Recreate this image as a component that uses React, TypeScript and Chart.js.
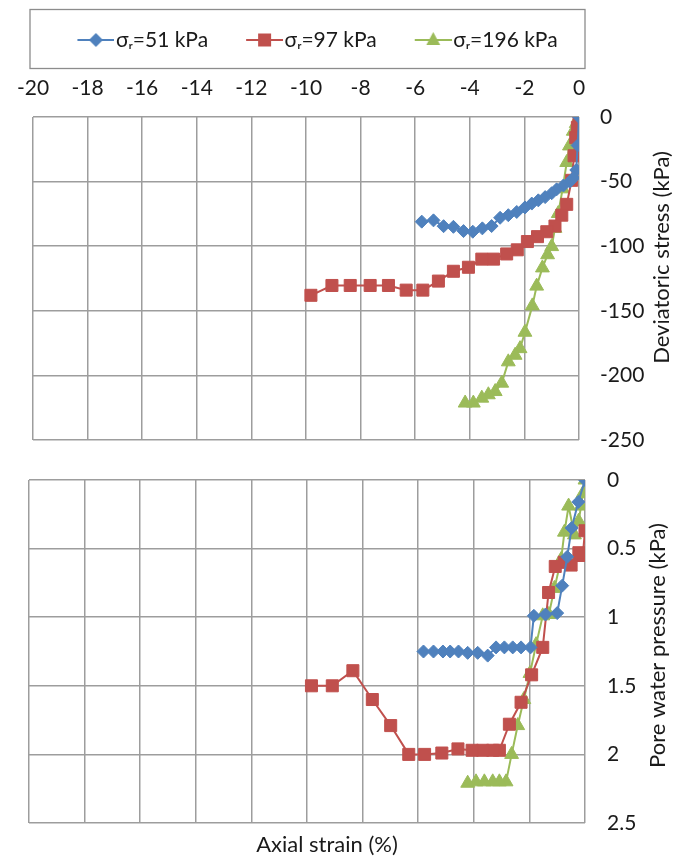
import React, { useEffect, useRef } from "react";
import { Chart, registerables } from "chart.js";

Chart.register(...registerables);

// ---------- data ----------
const seriesLabels = ["σᵣ=51 kPa", "σᵣ=97 kPa", "σᵣ=196 kPa"];
const seriesColors = ["#4F81BD", "#C0504D", "#9BBB59"];
const seriesMarkers = ["rectRot", "rect", "triangle"];

const strainTicks = [-20, -18, -16, -14, -12, -10, -8, -6, -4, -2, 0];
const devTicks = [0, -50, -100, -150, -200, -250];
const pwpTicks = [0, 0.5, 1, 1.5, 2, 2.5];

// Deviatoric stress (kPa) vs axial strain (%)
const strain51Dev = [0, -0.05, -0.1, -0.2, -0.33, -0.57, -0.82, -1.0, -1.24, -1.49, -1.73, -1.98, -2.28, -2.59, -2.89, -3.2, -3.54, -3.89, -4.23, -4.6, -4.96, -5.33, -5.76];
const dev51 = [0, -22, -41, -47, -50, -53, -56, -59, -62, -64.5, -67, -70, -73.5, -76, -78, -84.4, -86.2, -88.8, -88.3, -85, -84.5, -80, -81];

const strain97Dev = [0, -0.06, -0.12, -0.18, -0.27, -0.45, -0.63, -0.88, -1.18, -1.52, -1.89, -2.26, -2.65, -3.13, -3.56, -4.05, -4.6, -5.15, -5.72, -6.33, -6.98, -7.65, -8.38, -9.05, -9.82];
const dev97 = [0, -8, -16, -30, -49, -67.6, -76, -84.4, -88.8, -92.6, -96.4, -102.8, -106, -110, -110, -116.3, -119.4, -127, -134, -134, -130.4, -130.4, -130.4, -130.4, -138];

const strain196Dev = [0, -0.1, -0.21, -0.35, -0.45, -0.6, -0.76, -0.88, -1.0, -1.15, -1.34, -1.55, -1.71, -1.98, -2.16, -2.34, -2.59, -2.83, -3.07, -3.32, -3.56, -3.87, -4.17];
const dev196 = [0, -5, -11, -22.4, -35.2, -55.6, -74.7, -86.2, -100.3, -106.6, -116.8, -130.9, -146.2, -166.6, -179.3, -184.4, -189.5, -206, -212.5, -215, -217.6, -221.4, -221.4];

// Pore water pressure (kPa) vs axial strain (%)
const strain51Pwp = [0, -0.24, -0.48, -0.64, -0.82, -1.0, -1.42, -1.84, -1.96, -2.3, -2.6, -2.9, -3.2, -3.5, -3.86, -4.22, -4.55, -4.85, -5.11, -5.45, -5.81];
const pwp51 = [0, 0.16, 0.35, 0.56, 0.77, 0.97, 0.98, 0.99, 1.22, 1.22, 1.22, 1.22, 1.22, 1.28, 1.26, 1.26, 1.25, 1.25, 1.25, 1.25, 1.25];

const strain97Pwp = [0, -0.08, -0.22, -0.5, -0.75, -1.07, -1.31, -1.52, -1.92, -2.3, -2.72, -3.08, -3.32, -3.68, -4.06, -4.57, -5.15, -5.77, -6.34, -6.99, -7.65, -8.35, -9.09, -9.84];
const pwp97 = [0.37, 0.55, 0.53, 0.62, 0.6, 0.63, 0.82, 1.22, 1.42, 1.62, 1.78, 1.97, 1.97, 1.97, 1.97, 1.96, 1.99, 2.0, 2.0, 1.79, 1.6, 1.39, 1.5, 1.5];

const strain196Pwp = [0, -0.08, -0.14, -0.23, -0.38, -0.59, -0.74, -0.86, -1.1, -1.3, -1.52, -1.76, -1.98, -2.2, -2.42, -2.64, -2.84, -3.08, -3.32, -3.62, -3.92, -4.22];
const pwp196 = [0, 0.1, 0.19, 0.3, 0.4, 0.19, 0.38, 0.58, 0.79, 0.98, 0.99, 1.2, 1.41, 1.6, 1.79, 2.0, 2.2, 2.2, 2.2, 2.2, 2.2, 2.21];

const devTitle = "Deviatoric stress (kPa)";
const pwpTitle = "Pore water pressure (kPa)";
const strainTitle = "Axial strain (%)";

// ---------- styling ----------
const FONT = "Lato, 'Open Sans', 'DejaVu Sans', sans-serif";
const FONT_SIZE = 21;
const TITLE_SIZE = 22;
const TEXT_COLOR = "#1a1a1a";
const GRID_COLOR = "#9d9d9d";
const markerRadius = [6.5, 8.5, 8];
const LEGEND_BOX_W = 51;
const LEGEND_PAD = 15;
const TOP_PAD = 14.5;

const zip = (xs: number[], ys: number[]) => xs.map((x, i) => ({ x, y: ys[i] }));

function makeDatasets(pairs: [number[], number[]][]) {
  return pairs.map(([xs, ys], i) => ({
    label: seriesLabels[i],
    data: zip(xs, ys),
    showLine: true,
    borderColor: seriesColors[i],
    backgroundColor: seriesColors[i],
    borderWidth: 2,
    pointStyle: seriesMarkers[i],
    pointRadius: markerRadius[i],
    pointBorderWidth: 1,
    pointBorderColor: seriesColors[i],
    pointBackgroundColor: seriesColors[i],
  }));
}

function makeLegendIcon(i: number, boxW: number) {
  const c = document.createElement("canvas");
  const w = boxW + 18;
  const h = 18;
  c.width = w;
  c.height = h;
  const ctx = c.getContext("2d")!;
  const color = seriesColors[i];
  const y = h / 2;
  const x0 = w - 37;
  ctx.strokeStyle = color;
  ctx.fillStyle = color;
  ctx.lineWidth = 2;
  ctx.beginPath();
  ctx.moveTo(x0, y);
  ctx.lineTo(w, y);
  ctx.stroke();
  const cx = (x0 + w) / 2;
  ctx.beginPath();
  if (seriesMarkers[i] === "rectRot") {
    const r = 7;
    ctx.moveTo(cx, y - r);
    ctx.lineTo(cx + r, y);
    ctx.lineTo(cx, y + r);
    ctx.lineTo(cx - r, y);
  } else if (seriesMarkers[i] === "rect") {
    const s = 6.5;
    ctx.rect(cx - s, y - s, 2 * s, 2 * s);
  } else {
    const r = 8;
    ctx.moveTo(cx, y - r);
    ctx.lineTo(cx + r * 0.866, y + r * 0.5 + 1);
    ctx.lineTo(cx - r * 0.866, y + r * 0.5 + 1);
  }
  ctx.closePath();
  ctx.fill();
  return c;
}

const titlePlugin = (opts: { right?: { text: string; dx: number; dy: number }; bottom?: { text: string; dx: number; dy: number } }) => ({
  id: "axisTitles",
  afterDraw(chart: any) {
    const { ctx, chartArea } = chart;
    ctx.save();
    ctx.fillStyle = TEXT_COLOR;
    ctx.font = `${TITLE_SIZE}px ${FONT}`;
    ctx.textAlign = "center";
    ctx.textBaseline = "middle";
    if (opts.right) {
      ctx.save();
      ctx.translate(chartArea.right + opts.right.dx, (chartArea.top + chartArea.bottom) / 2 + opts.right.dy);
      ctx.rotate(-Math.PI / 2);
      ctx.fillText(opts.right.text, 0, 0);
      ctx.restore();
    }
    if (opts.bottom) {
      ctx.fillText(opts.bottom.text, (chartArea.left + chartArea.right) / 2 + opts.bottom.dx, chartArea.bottom + opts.bottom.dy);
    }
    ctx.restore();
  },
});

const legendBoxPlugin = {
  id: "legendBox",
  afterDraw(chart: any) {
    const { ctx, chartArea } = chart;
    ctx.save();
    ctx.strokeStyle = "#8c8c8c";
    ctx.lineWidth = 1.3;
    ctx.strokeRect(chartArea.left - 3, 9.5, chartArea.right - chartArea.left + 9, 59);
    ctx.restore();
  },
};

const gridOpts = { color: GRID_COLOR, lineWidth: 1.5, drawTicks: false };
const tickFont = { family: FONT, size: FONT_SIZE };

const zeroPad = (s: any) => {
  s.paddingTop = 0;
  s.paddingBottom = 0;
  s.paddingLeft = 0;
  s.paddingRight = 0;
};

export default function App() {
  const topRef = useRef<HTMLCanvasElement>(null);
  const botRef = useRef<HTMLCanvasElement>(null);

  useEffect(() => {
    const icons = [0, 1, 2].map((i) => makeLegendIcon(i, LEGEND_BOX_W));

    const top = new Chart(topRef.current!, {
      type: "scatter",
      data: {
        datasets: makeDatasets([
          [strain51Dev, dev51],
          [strain97Dev, dev97],
          [strain196Dev, dev196],
        ]) as any,
      },
      options: {
        animation: false,
        responsive: false,
        maintainAspectRatio: false,
        layout: { autoPadding: false, padding: { left: 33, top: TOP_PAD, right: 0, bottom: 20 } },
        plugins: {
          tooltip: { enabled: false },
          legend: {
            position: "top",
            fullSize: false,
            labels: {
              usePointStyle: true,
              pointStyleWidth: LEGEND_BOX_W,
              padding: LEGEND_PAD,
              color: TEXT_COLOR,
              font: tickFont,
              generateLabels: (chart: any) =>
                chart.data.datasets.map((ds: any, i: number) => ({
                  text: ds.label,
                  fillStyle: ds.backgroundColor,
                  strokeStyle: ds.borderColor,
                  lineWidth: 0,
                  pointStyle: icons[i],
                  hidden: false,
                  datasetIndex: i,
                  fontColor: TEXT_COLOR,
                })),
            },
          },
        },
        scales: {
          x: {
            type: "linear",
            position: "top",
            min: -20,
            max: 0,
            afterBuildTicks: (s: any) => {
              s.ticks = strainTicks.map((value) => ({ value }));
            },
            afterFit: (s: any) => {
              const lh = s.chart.legend ? s.chart.legend.height : 46;
              s.height = 117 - TOP_PAD - lh;
              zeroPad(s);
            },
            grid: gridOpts,
            border: { display: false },
            ticks: { font: tickFont, color: TEXT_COLOR, padding: 16, maxRotation: 0, autoSkip: false, callback: (v: any) => String(v) },
          },
          y: {
            type: "linear",
            position: "right",
            min: -250,
            max: 0,
            afterBuildTicks: (s: any) => {
              s.ticks = devTicks.map((value) => ({ value }));
            },
            afterFit: (s: any) => {
              s.width = 107;
              zeroPad(s);
            },
            grid: gridOpts,
            border: { display: false },
            ticks: { font: tickFont, color: TEXT_COLOR, padding: 21, autoSkip: false, callback: (v: any) => String(v) },
          },
        },
      } as any,
      plugins: [titlePlugin({ right: { text: devTitle, dx: 83, dy: -21 } }), legendBoxPlugin],
    });

    const bot = new Chart(botRef.current!, {
      type: "scatter",
      data: {
        datasets: makeDatasets([
          [strain51Pwp, pwp51],
          [strain97Pwp, pwp97],
          [strain196Pwp, pwp196],
        ]) as any,
      },
      options: {
        animation: false,
        responsive: false,
        maintainAspectRatio: false,
        layout: { autoPadding: false, padding: { left: 29, top: 20, right: 0, bottom: 0 } },
        plugins: { tooltip: { enabled: false }, legend: { display: false } },
        scales: {
          x: {
            type: "linear",
            position: "bottom",
            min: -20,
            max: 0,
            afterBuildTicks: (s: any) => {
              s.ticks = strainTicks.map((value) => ({ value }));
            },
            afterFit: (s: any) => {
              s.height = 34;
              zeroPad(s);
            },
            grid: gridOpts,
            border: { display: false },
            ticks: { display: false },
          },
          y: {
            type: "linear",
            position: "right",
            reverse: true,
            min: 0,
            max: 2.5,
            afterBuildTicks: (s: any) => {
              s.ticks = pwpTicks.map((value) => ({ value }));
            },
            afterFit: (s: any) => {
              s.width = 101;
              zeroPad(s);
            },
            grid: gridOpts,
            border: { display: false },
            ticks: { font: tickFont, color: TEXT_COLOR, padding: 22, autoSkip: false, callback: (v: any) => String(v) },
          },
        },
      } as any,
      plugins: [titlePlugin({ right: { text: pwpTitle, dx: 73, dy: -6 }, bottom: { text: strainTitle, dx: 20, dy: 22 } })],
    });

    return () => {
      top.destroy();
      bot.destroy();
    };
  }, []);

  return (
    <div style={{ position: "absolute", left: 0, top: 0, width: 686, height: 857, background: "#fff" }}>
      <canvas ref={topRef} width={686} height={460} style={{ position: "absolute", left: 0, top: 0, width: 686, height: 460 }} />
      <canvas ref={botRef} width={686} height={397} style={{ position: "absolute", left: 0, top: 460, width: 686, height: 397 }} />
    </div>
  );
}
